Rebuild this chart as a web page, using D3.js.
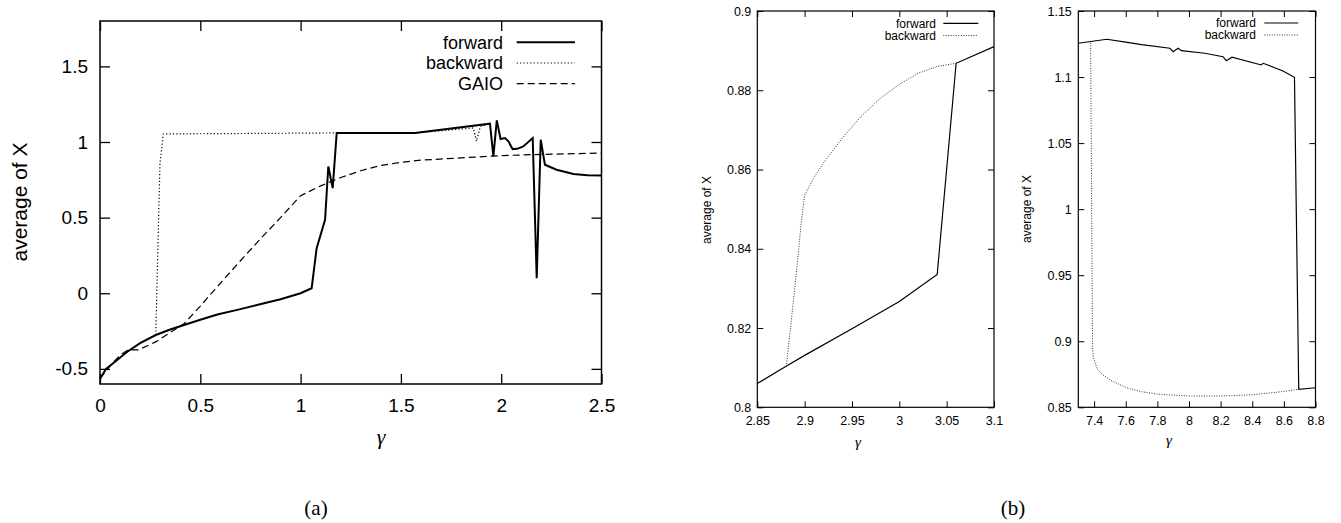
<!DOCTYPE html>
<html><head><meta charset="utf-8">
<script src="https://cdn.jsdelivr.net/npm/d3@7"></script>
<style>
body{margin:0;background:#fff}
svg{display:block}
text{fill:#000}
</style></head><body>
<svg id="c" width="1341" height="523"></svg>
<script>
// ---------- Panel (a) data ----------
const aXTicks = [0, 0.5, 1, 1.5, 2, 2.5];
const aYTicks = [-0.5, 0, 0.5, 1, 1.5];
const aForwardG = [0, 0.03, 0.087, 0.136, 0.2, 0.278, 0.35, 0.419, 0.5, 0.585, 0.7, 0.818, 0.9, 0.95, 1.0, 1.055, 1.08, 1.122, 1.138, 1.16, 1.18, 1.57, 1.944, 1.961, 1.978, 1.997, 2.019, 2.036, 2.057, 2.08, 2.11, 2.157, 2.177, 2.197, 2.218, 2.276, 2.36, 2.43, 2.5];
const aForwardV = [-0.565, -0.5, -0.44, -0.387, -0.33, -0.276, -0.24, -0.21, -0.175, -0.14, -0.105, -0.066, -0.04, -0.02, 0.0, 0.033, 0.298, 0.485, 0.838, 0.695, 1.06, 1.06, 1.121, 0.905, 1.143, 1.02, 1.026, 1.004, 0.953, 0.955, 0.971, 1.026, 0.1, 1.015, 0.85, 0.817, 0.788, 0.78, 0.779];
const aBackwardG = [0.278, 0.299, 0.316, 1.18, 1.57, 1.861, 1.877, 1.896, 1.944];
const aBackwardV = [-0.276, 0.861, 1.053, 1.06, 1.06, 1.093, 1.005, 1.103, 1.121];
const aGaioG = [0, 0.05, 0.1, 0.14, 0.19, 0.28, 0.42, 0.5, 0.6, 0.7, 0.8, 0.9, 1.0, 1.1, 1.2, 1.3, 1.4, 1.5, 1.6, 1.8, 2.0, 2.2, 2.5];
const aGaioV = [-0.565, -0.48, -0.41, -0.375, -0.375, -0.32, -0.2, -0.085, 0.066, 0.215, 0.36, 0.5, 0.645, 0.71, 0.765, 0.81, 0.845, 0.865, 0.88, 0.895, 0.91, 0.918, 0.927];

// ---------- Panel (b) left data ----------
const b1XTicks = [2.85, 2.9, 2.95, 3, 3.05, 3.1];
const b1YTicks = [0.8, 0.82, 0.84, 0.86, 0.88, 0.9];
const b1ForwardG = [2.85, 2.88, 2.9, 2.95, 3.0, 3.04, 3.06, 3.1];
const b1ForwardV = [0.806, 0.8103, 0.8131, 0.8198, 0.8267, 0.8335, 0.8868, 0.891];
const b1BackwardG = [2.8806, 2.886, 2.892, 2.896, 2.9, 2.91, 2.92, 2.94, 2.96, 2.98, 3.0, 3.02, 3.04, 3.06];
const b1BackwardV = [0.8103, 0.822, 0.8356, 0.8457, 0.8535, 0.858, 0.8617, 0.868, 0.8735, 0.878, 0.8815, 0.8843, 0.886, 0.8868];

// ---------- Panel (b) right data ----------
const b2XTicks = [7.4, 7.6, 7.8, 8, 8.2, 8.4, 8.6, 8.8];
const b2YTicks = [0.85, 0.9, 0.95, 1, 1.05, 1.1, 1.15];
const b2ForwardG = [7.3, 7.48, 7.6, 7.7, 7.879, 7.9, 7.931, 7.952, 8.1, 8.215, 8.236, 8.272, 8.44, 8.455, 8.47, 8.594, 8.667, 8.694, 8.8];
const b2ForwardV = [1.1256, 1.1286, 1.1265, 1.1245, 1.1218, 1.1192, 1.1218, 1.12, 1.118, 1.1154, 1.1124, 1.115, 1.1097, 1.1092, 1.1104, 1.1046, 1.0998, 0.8636, 0.8648];
const b2BackwardG = [7.378, 7.39, 7.395, 7.42, 7.45, 7.5, 7.6, 7.7, 7.8, 7.9, 8.0, 8.1, 8.2, 8.3, 8.4, 8.5, 8.6, 8.694];
const b2BackwardV = [1.1258, 0.895, 0.888, 0.879, 0.875, 0.8707, 0.865, 0.8618, 0.86, 0.8592, 0.8586, 0.8585, 0.8586, 0.859, 0.8595, 0.8607, 0.862, 0.8636];

const svg = d3.select("#c");
const SANS = "'Liberation Sans', Arial, Helvetica, sans-serif";
const SERIF = "'Liberation Serif', 'DejaVu Serif', serif";

function panel(o) {
  const x = d3.scaleLinear().domain(o.xDomain).range([o.L, o.R]);
  const y = d3.scaleLinear().domain(o.yDomain).range([o.B, o.T]);
  const g = svg.append("g");
  const fmt = d => String(d);
  const style = sel => {
    sel.select(".domain").remove();
    sel.selectAll(".tick line").attr("stroke", "#000").attr("stroke-width", o.tw);
    sel.selectAll(".tick text").attr("font-family", SANS).attr("font-size", o.fs).attr("fill", "#000");
  };
  g.append("g").attr("transform", `translate(0,${o.B})`)
    .call(d3.axisBottom(x).tickValues(o.xTicks).tickSizeInner(-o.ts).tickSizeOuter(0).tickPadding(o.xPad).tickFormat(fmt)).call(style);
  g.append("g").attr("transform", `translate(0,${o.T})`)
    .call(d3.axisTop(x).tickValues(o.xTicks).tickSizeInner(-o.ts).tickSizeOuter(0).tickFormat("")).call(style);
  g.append("g").attr("transform", `translate(${o.L},0)`)
    .call(d3.axisLeft(y).tickValues(o.yTicks).tickSizeInner(-o.ts).tickSizeOuter(0).tickPadding(o.yPad).tickFormat(fmt)).call(style);
  g.append("g").attr("transform", `translate(${o.R},0)`)
    .call(d3.axisRight(y).tickValues(o.yTicks).tickSizeInner(-o.ts).tickSizeOuter(0).tickFormat("")).call(style);
  g.append("rect").attr("x", o.L).attr("y", o.T).attr("width", o.R - o.L).attr("height", o.B - o.T)
    .attr("fill", "none").attr("stroke", "#000").attr("stroke-width", o.fw);

  const line = d3.line().x(d => x(d[0])).y(d => y(d[1]));
  o.series.forEach(s => {
    g.append("path").datum(d3.zip(s.g, s.v)).attr("d", line)
      .attr("fill", "none").attr("stroke", s.color).attr("stroke-width", s.w)
      .attr("stroke-dasharray", s.dash || null).attr("stroke-linejoin", "miter");
  });
  // legend
  o.series.forEach((s, i) => {
    const ly = o.legY[i];
    g.append("text").attr("x", o.legTextR).attr("y", ly).attr("dy", "0.35em")
      .attr("text-anchor", "end").attr("font-family", SANS).attr("font-size", o.legFs).text(s.name);
    g.append("line").attr("x1", o.legS1).attr("x2", o.legS2).attr("y1", ly).attr("y2", ly)
      .attr("stroke", s.color).attr("stroke-width", s.w).attr("stroke-dasharray", s.dash || null);
  });
  // axis titles
  g.append("text").attr("transform", `translate(${o.ylX},${o.ylY}) rotate(-90)`)
    .attr("text-anchor", "middle").attr("dy", "0.35em").attr("font-family", SANS).attr("font-size", o.ylFs).text("average of X");
  g.append("text").attr("x", o.xlX).attr("y", o.xlY).attr("dy", "0.35em").attr("text-anchor", "middle")
    .attr("font-family", SERIF).attr("font-style", "italic").attr("font-size", o.xlFs).text("\u03b3");
}

panel({
  L: 100, R: 601.5, T: 21, B: 384, xDomain: [0, 2.5], yDomain: [-0.6, 1.8],
  xTicks: aXTicks, yTicks: aYTicks, ts: 10, tw: 1.3, fw: 1.5, fs: 19, xPad: 15, yPad: 12,
  series: [
    {name: "forward", g: aForwardG, v: aForwardV, color: "#000", w: 2},
    {name: "backward", g: aBackwardG, v: aBackwardV, color: "#000", w: 1.2, dash: "1.2,2.2"},
    {name: "GAIO", g: aGaioG, v: aGaioV, color: "#000", w: 1.2, dash: "7,4"}
  ],
  legY: [42.3, 63, 83.7], legTextR: 503, legS1: 516.7, legS2: 575, legFs: 18,
  ylX: 20, ylY: 202, ylFs: 21, xlX: 381, xlY: 436.7, xlFs: 22
});

panel({
  L: 757.3, R: 994, T: 11, B: 407.3, xDomain: [2.85, 3.1], yDomain: [0.8, 0.9],
  xTicks: b1XTicks, yTicks: b1YTicks, ts: 6, tw: 1, fw: 1.2, fs: 12.5, xPad: 9, yPad: 6,
  series: [
    {name: "forward", g: b1ForwardG, v: b1ForwardV, color: "#000", w: 1.2},
    {name: "backward", g: b1BackwardG, v: b1BackwardV, color: "#333", w: 1, dash: "1,1.5"}
  ],
  legY: [23.3, 35.5], legTextR: 936, legS1: 943.3, legS2: 978.3, legFs: 12,
  ylX: 706.7, ylY: 210, ylFs: 12, xlX: 858, xlY: 442, xlFs: 15
});

panel({
  L: 1078.3, R: 1315.5, T: 11, B: 407.3, xDomain: [7.3, 8.8], yDomain: [0.85, 1.15],
  xTicks: b2XTicks, yTicks: b2YTicks, ts: 6, tw: 1, fw: 1.2, fs: 12.5, xPad: 9, yPad: 6.5,
  series: [
    {name: "forward", g: b2ForwardG, v: b2ForwardV, color: "#000", w: 1.2},
    {name: "backward", g: b2BackwardG, v: b2BackwardV, color: "#333", w: 1, dash: "1,1.5"}
  ],
  legY: [23, 35], legTextR: 1256, legS1: 1264.3, legS2: 1298.3, legFs: 12,
  ylX: 1027, ylY: 209, ylFs: 12, xlX: 1169, xlY: 440, xlFs: 15
});

svg.append("text").attr("x", 316).attr("y", 508).attr("dy", "0.35em").attr("text-anchor", "middle")
  .attr("font-family", SERIF).attr("font-size", 21).text("(a)");
svg.append("text").attr("x", 1013).attr("y", 508).attr("dy", "0.35em").attr("text-anchor", "middle")
  .attr("font-family", SERIF).attr("font-size", 21).text("(b)");
</script>
</body></html>
